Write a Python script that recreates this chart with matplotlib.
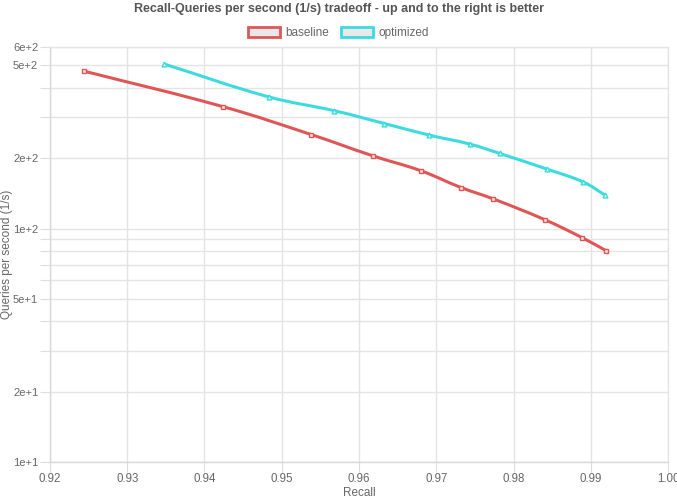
import numpy as np
import matplotlib
matplotlib.use("Agg")
import matplotlib.pyplot as plt
from matplotlib.path import Path
from matplotlib.patches import PathPatch, Rectangle
from matplotlib.ticker import FixedLocator, FuncFormatter

plt.rcParams['font.family'] = ['Liberation Sans', 'DejaVu Sans']

# data
baseline_recall = [0.9244, 0.9424, 0.9538, 0.9618, 0.9680, 0.9732, 0.9774, 0.9841, 0.9889, 0.9920]
baseline_qps = [473, 333, 253, 205, 177, 150, 134, 109, 91.4, 80.4]
optimized_recall = [0.9348, 0.9483, 0.9568, 0.9633, 0.9690, 0.9744, 0.9782, 0.9843, 0.9890, 0.9918]
optimized_qps = [507, 367, 320, 282, 252, 230, 210, 180, 158.5, 139.6]

x_ticks = [0.92, 0.93, 0.94, 0.95, 0.96, 0.97, 0.98, 0.99, 1.00]
y_grid = [10, 20, 30, 40, 50, 60, 70, 80, 90, 100, 200, 300, 400, 500, 600]
y_labels = {10: '1e+1', 20: '2e+1', 50: '5e+1', 100: '1e+2', 200: '2e+2', 500: '5e+2', 600: '6e+2'}

RED = '#e05656'
CYAN = '#3ddbe0'
GRID = '#e4e4e4'
TXT = '#666666'


def smooth_path(ax, xs, ys, tension=0.4):
    # chart.js style spline, control points computed in pixel space
    pts = ax.transData.transform(np.column_stack([xs, ys]))
    verts = [pts[0]]
    codes = [Path.MOVETO]
    n = len(pts)
    cps = []
    for i in range(n):
        prev = pts[max(i - 1, 0)]
        cur = pts[i]
        nxt = pts[min(i + 1, n - 1)]
        d01 = np.hypot(*(cur - prev))
        d12 = np.hypot(*(nxt - cur))
        tot = d01 + d12 if d01 + d12 > 0 else 1
        fa = tension * d01 / tot
        fb = tension * d12 / tot
        cps.append((cur - fa * (nxt - prev), cur + fb * (nxt - prev)))
    for i in range(1, n):
        verts += [cps[i - 1][1], cps[i][0], pts[i]]
        codes += [Path.CURVE4] * 3
    return Path(verts, codes)


fig = plt.figure(figsize=(6.77, 5.0), dpi=100)
ax = fig.add_axes([50 / 677, 38 / 500, 618 / 677, 415 / 500])
ax.set_yscale('log')
ax.set_xlim(0.92, 1.00)
ax.set_ylim(10, 600)

ax.xaxis.set_major_locator(FixedLocator(x_ticks))
ax.xaxis.set_major_formatter(FuncFormatter(lambda v, p: f'{v:.2f}'))
ax.yaxis.set_major_locator(FixedLocator(y_grid))
ax.yaxis.set_minor_locator(FixedLocator([]))
ax.yaxis.set_major_formatter(FuncFormatter(lambda v, p: y_labels.get(int(round(v)), '')))

ax.grid(True, color=GRID, lw=1)
ax.set_axisbelow(True)
for s in ax.spines.values():
    s.set_color(GRID)
    s.set_linewidth(1)
ax.spines['left'].set_color('#d8d8d8')
ax.spines['bottom'].set_color('#d8d8d8')
ax.tick_params(axis='both', length=7.5, color='#dddddd', labelcolor=TXT, labelsize=8.3)
ax.tick_params(axis='y', labelsize=8, pad=1)
ax.tick_params(axis='x', pad=0.5)

for xs, ys, col, mk in [(baseline_recall, baseline_qps, RED, 's'),
                        (optimized_recall, optimized_qps, CYAN, '^')]:
    ax.add_patch(PathPatch(smooth_path(ax, xs, ys), transform=None, fill=False,
                           edgecolor=col, lw=2.2, capstyle='round', joinstyle='round'))
    ax.plot(xs, ys, ls='none', marker=mk, ms=3.5, mec=col, mfc=(1, 0.9, 0.9) if col == RED else (0.85, 1, 1),
            mew=1)

ax.set_xlabel('Recall', color=TXT, fontsize=8.5)
ax.set_ylabel('Queries per second (1/s)', color=TXT, fontsize=8.5)
ax.xaxis.set_label_coords(0.5, -25 / 415)
ax.yaxis.set_label_coords(-37 / 618, 0.5)

fig.text(0.5, 0.982, 'Recall-Queries per second (1/s) tradeoff - up and to the right is better',
         ha='center', va='center', fontsize=9, fontweight='bold', color='#555555')

handles = [Rectangle((0, 0), 1, 1, facecolor='#e8e8e8', edgecolor=RED, lw=2),
           Rectangle((0, 0), 1, 1, facecolor='#e8e8e8', edgecolor=CYAN, lw=2)]
leg = fig.legend(handles, ['baseline', 'optimized'], loc='center', bbox_to_anchor=(0.5, 0.934),
                 ncol=2, frameon=False, fontsize=8.5, handlelength=2.7, handleheight=0.9,
                 handletextpad=0.5, columnspacing=1.0)
for t in leg.get_texts():
    t.set_color(TXT)

fig.savefig('out.png', dpi=100)
